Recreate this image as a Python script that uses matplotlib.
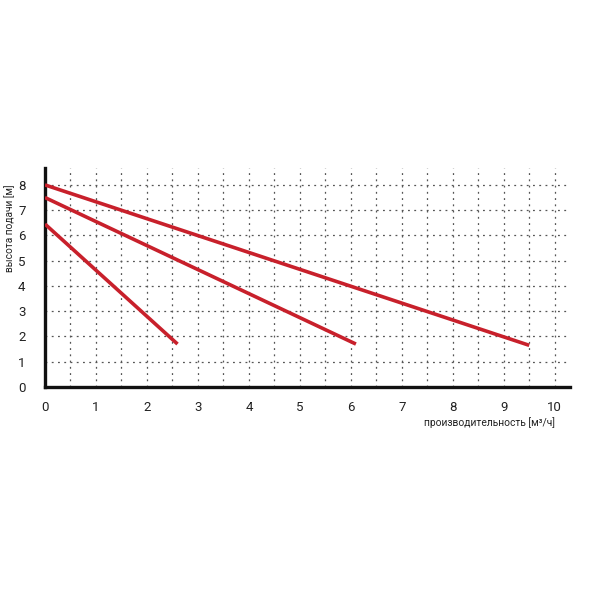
import matplotlib.pyplot as plt
from matplotlib.ticker import MultipleLocator

# pump curves: flow [m3/h] vs head [m]
flow_a = [0.0, 9.5]
head_a = [8.0, 1.65]
flow_b = [0.0, 6.1]
head_b = [7.5, 1.7]
flow_c = [0.0, 2.6]
head_c = [6.45, 1.7]

x_ticks = list(range(0, 11))
y_ticks = list(range(0, 9))

RED = "#c8202b"

plt.rcParams["font.family"] = ["Roboto", "DejaVu Sans"]

fig = plt.figure(figsize=(6, 6), dpi=100)
ax = fig.add_axes([0.075, 0.355, 0.875, 0.365])

for fx, hy in [(flow_a, head_a), (flow_b, head_b), (flow_c, head_c)]:
    ax.plot(fx, hy, color=RED, linewidth=2.6, solid_capstyle="butt", zorder=3)

ax.set_xlim(0, 10.3)
ax.set_ylim(0, 8.67)
ax.set_xticks(x_ticks)
ax.set_yticks(y_ticks)
ax.xaxis.set_minor_locator(MultipleLocator(0.5))

grid_style = dict(color="#555555", linestyle=(0, (1.5, 3.5)), linewidth=0.9)
ax.grid(True, axis="x", which="both", **grid_style)
ax.grid(True, axis="y", which="major", **grid_style)
ax.set_axisbelow(True)

for side in ("top", "right"):
    ax.spines[side].set_visible(False)
for side in ("left", "bottom"):
    ax.spines[side].set_linewidth(2.4)
    ax.spines[side].set_color("#111111")

ax.tick_params(which="both", length=0, labelsize=9.5, colors="#222222")
ax.tick_params(axis="x", pad=10)
ax.tick_params(axis="y", pad=14)

fig.text(10 / 600, 1 - 228 / 600, "высота подачи [м]", rotation=90,
         ha="center", va="center", fontsize=7.3, color="#222222")
fig.text(555 / 600, 1 - 423 / 600, "производительность [м³/ч]",
         ha="right", va="center", fontsize=7.4, color="#222222")

fig.savefig("out.png", dpi=100, facecolor="white")
